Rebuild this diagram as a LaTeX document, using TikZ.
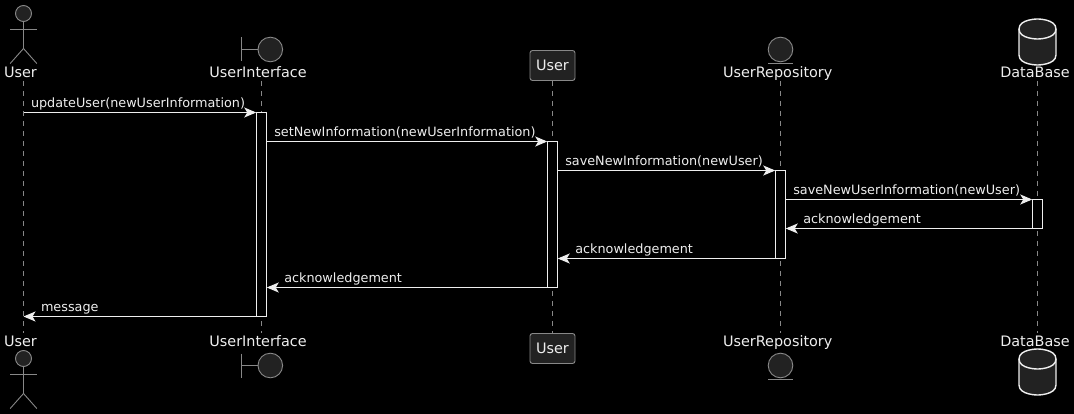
\documentclass[tikz,border=0pt]{standalone}
\usepackage{fontspec}
\setmainfont{DejaVu Sans}
\usetikzlibrary{arrows.meta}
\definecolor{icongray}{HTML}{888888}
\definecolor{iconfill}{HTML}{222222}
\definecolor{inkwhite}{HTML}{EEEEEE}
\tikzset{
  partname/.style={text=inkwhite,font=\fontsize{14.4}{16}\selectfont,inner sep=0pt,
    text height=13pt,text depth=3pt,anchor=base},
  msgtext/.style={text=inkwhite,font=\fontsize{12.8}{15}\selectfont,inner sep=0pt,anchor=base west},
  life/.style={draw=icongray,line width=0.9pt,dash pattern=on 5pt off 5pt},
  bar/.style={draw=inkwhite,fill=black,line width=1pt,minimum width=10.5pt,inner sep=0pt,outer sep=0pt},
  msg/.style={draw=inkwhite,line width=1pt,-{Stealth[inset=3pt,length=12pt,width=10pt]}},
  icon/.style={draw=icongray,fill=iconfill,line width=0.9pt},
  stick/.style={draw=icongray,line width=0.9pt},
  dbicon/.style={draw=inkwhite,fill=iconfill,line width=1.4pt},
  classbox/.style={draw=icongray,fill=iconfill,rounded corners=2.5pt,line width=0.9pt,
    minimum width=45pt,minimum height=30pt,inner sep=0pt,text=inkwhite,
    font=\fontsize{14.4}{16}\selectfont},
}
\begin{document}
\begin{tikzpicture}[x=1pt,y=-1pt]
\newcommand\actorfig{
\draw[icon] (23.5,13.5) circle (8);
\draw[stick] (23.5,21.5) -- (23.5,48.5);
\draw[stick] (10.2,29.5) -- (36.8,29.5);
\draw[stick] (10.2,63.5) -- (23.5,48.5) -- (36.8,63.5);
}
\newcommand\boundaryfig{
\draw[stick] (241.5,37.5) -- (241.5,61.5);
\draw[stick] (241.5,49.5) -- (258,49.5);
\draw[icon] (270.3,49.5) circle (12.3);
}
\newcommand\entityfig{
\draw[icon] (780.5,49.5) circle (12.3);
\draw[stick] (768.2,63.5) -- (792.8,63.5);
}
\newcommand\dbfig{
\draw[dbicon] (1019,29) .. controls (1019,19) and (1037.5,19) .. (1037.5,19)
  .. controls (1037.5,19) and (1056,19) .. (1056,29) -- (1056,55)
  .. controls (1056,65) and (1037.5,65) .. (1037.5,65)
  .. controls (1037.5,65) and (1019,65) .. (1019,55) -- cycle;
\draw[dbicon,fill=none] (1019,29) .. controls (1019,39) and (1037.5,39) .. (1037.5,39)
  .. controls (1037.5,39) and (1056,39) .. (1056,29);
}
\useasboundingbox (0,0) rectangle (1074,414);
\fill[black] (0,0) rectangle (1074,414);

\node[partname] (userT) at (20.5,78) {User};
\node[partname] (uiT) at (258,78) {UserInterface};
\node[classbox] (entityT) at (552.5,65.5) {User};
\node[partname] (repoT) at (777.7,78) {UserRepository};
\node[partname] (dbT) at (1035,78) {DataBase};
\node[partname] (userB) at (20.5,346) {User};
\node[partname] (uiB) at (258,346) {UserInterface};
\node[classbox] (entityB) at (552.5,348.5) {User};
\node[partname] (repoB) at (777.7,346) {UserRepository};
\node[partname] (dbB) at (1035,346) {DataBase};

\coordinate (lifeU) at (23.5,81);
\coordinate (lifeI) at (261.5,81);
\coordinate (lifeR) at (780.5,81);
\coordinate (lifeD) at (1037.5,81);
\path[life] (lifeU) -- (lifeU |- userB.north);
\path[life] (lifeI) -- (lifeI |- uiB.north);
\path[life] (entityT.south) -- (entityB.north);
\path[life] (lifeR) -- (lifeR |- repoB.north);
\path[life] (lifeD) -- (lifeD |- dbB.north);

\node[bar,minimum height=204pt] (bar1) at (261.5,214.5) {};
\node[bar,minimum height=146pt] (bar2) at (552.5,214.5) {};
\node[bar,minimum height=88pt] (bar3) at (780.5,214.5) {};
\node[bar,minimum height=29pt] (bar4) at (1037.5,214) {};

\path[msg] (lifeU |- bar1.north) -- (bar1.north west)
  node[msgtext,pos=0,xshift=7pt,yshift=5pt] (m1) {updateUser(newUserInformation)};
\path[msg] (bar1.east |- bar2.north) -- (bar2.north west)
  node[msgtext,pos=0,xshift=7pt,yshift=5pt] (m2) {setNewInformation(newUserInformation)};
\path[msg] (bar2.east |- bar3.north) -- (bar3.north west)
  node[msgtext,pos=0,xshift=7pt,yshift=5pt] (m3) {saveNewInformation(newUser)};
\path[msg] (bar3.east |- bar4.north) -- (bar4.north west)
  node[msgtext,pos=0,xshift=7pt,yshift=5pt] (m4) {saveNewUserInformation(newUser)};
\path[msg] (bar4.south west) -- (bar3.east |- bar4.south)
  node[msgtext,pos=1,xshift=17pt,yshift=5pt] (m5) {acknowledgement};
\path[msg] (bar3.south west) -- (bar2.east |- bar3.south)
  node[msgtext,pos=1,xshift=17pt,yshift=5pt] (m6) {acknowledgement};
\path[msg] (bar2.south west) -- (bar1.east |- bar2.south)
  node[msgtext,pos=1,xshift=17pt,yshift=5pt] (m7) {acknowledgement};
\path[msg] (bar1.south west) -- (lifeU |- bar1.south)
  node[msgtext,pos=1,xshift=17pt,yshift=5pt] (m8) {message};

\begin{scope}
\actorfig
\boundaryfig
\entityfig
\dbfig
\end{scope}
\begin{scope}[yshift=-345pt]
\actorfig
\end{scope}
\begin{scope}[yshift=-316pt]
\boundaryfig
\entityfig
\end{scope}
\begin{scope}[yshift=-330pt]
\dbfig
\end{scope}
\end{tikzpicture}
\end{document}
